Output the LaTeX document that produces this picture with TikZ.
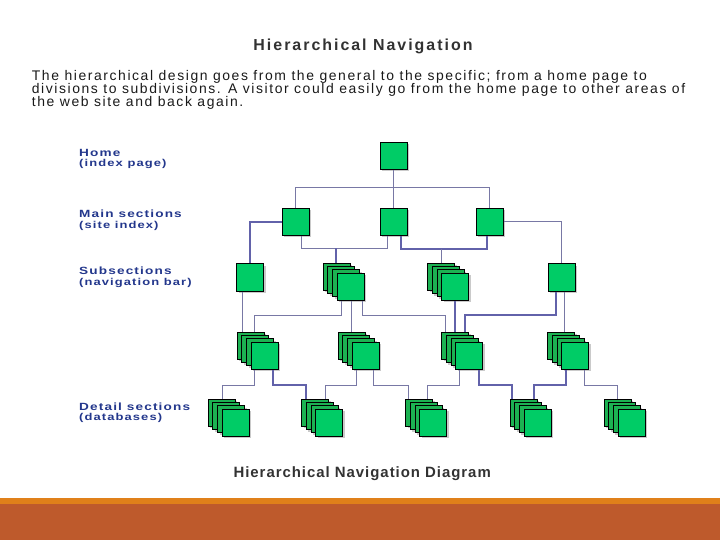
\documentclass[tikz,border=0pt]{standalone}
\usepackage{fontspec}
\setmainfont{Liberation Sans}
\usetikzlibrary{shadows,calc}
\definecolor{boxgreen}{RGB}{0,204,102}
\definecolor{backgreen}{RGB}{28,178,82}
\definecolor{lblblue}{RGB}{35,55,140}
\definecolor{lnthin}{RGB}{120,120,165}
\definecolor{lnthick}{RGB}{98,98,170}
\definecolor{barorange}{RGB}{224,128,26}
\definecolor{barrust}{RGB}{190,90,44}
\definecolor{txtgray}{RGB}{50,50,50}
\newfontfamily\lblfont[FakeStretch=1.3,LetterSpace=11]{Liberation Sans}
\newfontfamily\titlefont[LetterSpace=12.5]{Liberation Sans}
\newfontfamily\parafont[LetterSpace=11.3]{Liberation Sans}
\newfontfamily\capfont[LetterSpace=6.5]{Liberation Sans}
\tikzset{
 pagebox/.style={draw=black, line width=1bp, fill=boxgreen, minimum size=27bp, inner sep=0pt,
   drop shadow={shadow xshift=2bp, shadow yshift=-2bp, fill=black!35, opacity=0.6}},
 backbox/.style={pagebox, fill=backgreen},
 ln/.style={draw=lnthin, line width=1bp},
 lnb/.style={draw=lnthick, line width=1.8bp},
 lbl/.style={anchor=base west, inner sep=0pt, text=lblblue, font=\lblfont\bfseries\fontsize{10.5}{12}\selectfont},
 lbls/.style={lbl, font=\lblfont\bfseries\fontsize{10}{11}\selectfont},
 titletext/.style={anchor=base, inner sep=0pt, text=txtgray, font=\titlefont\bfseries\fontsize{16}{18}\selectfont},
 paratext/.style={anchor=base west, inner sep=0pt, text=black!90, font=\parafont\fontsize{14}{16}\selectfont},
 captext/.style={anchor=base, inner sep=0pt, text=txtgray, font=\capfont\bfseries\fontsize{15}{17}\selectfont},
}
\newcommand\pagestack[3]{%
 \foreach \i in {0,1,2} {\node[backbox] (#1-\i) at ({#2+13.5+\i*4.67},{#3+13.5+\i*3.33}) {};}
 \node[pagebox] (#1) at ({#2+13.5+14},{#3+13.5+10}) {};
}
\begin{document}
\begin{tikzpicture}[x=1bp,y=-1bp]
\useasboundingbox (0,0) rectangle (720,540);
% bottom bars
\fill[barorange] (0,497.5) rectangle (720,504);
\fill[barrust] (0,504) rectangle (720,540);
% texts
\node[titletext] (title) at (363,50.7) {Hierarchical Navigation};
\node[paratext] (p1) at (31.7,80.3) {The hierarchical design goes from the general to the specific; from a home page to};
\node[paratext] (p2) at (31.7,93.7) {divisions to subdivisions. A visitor could easily go from the home page to other areas of};
\node[paratext] (p3) at (31.7,107) {the web site and back again.};
\node[captext] (cap) at (362.2,477.7) {Hierarchical Navigation Diagram};
% level labels
\node[lbl] (l1a) at (79,156.5) {Home};
\node[lbls] (l1b) at (79,166.8) {(index page)};
\node[lbl] (l2a) at (79,217.5) {Main sections};
\node[lbls] (l2b) at (79,229) {(site index)};
\node[lbl] (l3a) at (79,274.3) {Subsections};
\node[lbls] (l3b) at (79,285.6) {(navigation bar)};
\node[lbl] (l5a) at (79,410) {Detail sections};
\node[lbls] (l5b) at (79,420) {(databases)};
% boxes
\node[pagebox] (home) at (393.5,156) {};
\node[pagebox] (m1) at (295.5,222) {};
\node[pagebox] (m2) at (393.5,222) {};
\node[pagebox] (m3) at (489.5,222) {};
\node[pagebox] (s1) at (250,277.5) {};
\pagestack{S2}{323.3}{263.3}
\pagestack{S3}{427.7}{263.3}
\node[pagebox] (s4) at (561.5,277.5) {};
\pagestack{A}{237.3}{332.3}
\pagestack{B}{338.3}{332.3}
\pagestack{C}{441.7}{332.3}
\pagestack{D}{547.7}{332.3}
\pagestack{E1}{208.3}{399.3}
\pagestack{E2}{301.7}{399.3}
\pagestack{E3}{405.7}{399.3}
\pagestack{E4}{510}{399.3}
\pagestack{E5}{604}{399.3}
% connectors level 1-2
\coordinate (bus1) at (393.5,187.3);
\draw[ln] (home.south) -- (m2.north);
\draw[ln] (m1.north) |- (bus1) -| (m3.north);
% level 2-3
\draw[lnb] (m1.west) -| (s1.north);
\coordinate (j2) at (335.7,248.3);
\draw[ln] (301.3,0 |- m1.south) |- (387.3,248.3) -- (387.3,0 |- m2.south);
\draw[lnb] (j2) -- (335.7,0 |- S2-0.north);
\coordinate (j3) at (441.7,249);
\draw[lnb] (400.7,0 |- m2.south) |- (487.3,249) -- (487.3,0 |- m3.south);
\draw[ln] (j3) -- (441.7,0 |- S3-0.north);
\draw[ln] (m3.east) -| (s4.north);
% level 3-4
\draw[ln] (242.7,0 |- s1.south) -- (242.7,0 |- A-0.north);
\draw[ln] (341.7,0 |- S2.south) |- (254.3,315) -- (254.3,0 |- A-0.north);
\draw[ln] (351.7,0 |- S2.south) -- (351.7,0 |- B-0.north);
\draw[ln] (362.3,0 |- S2.south) |- (445.7,315) -- (445.7,0 |- C-0.north);
\draw[lnb] (455,0 |- S3.south) -- (455,0 |- C-0.north);
\draw[lnb] (556.3,0 |- s4.south) |- (465,315.3) -- (465,0 |- C-0.north);
\draw[ln] (564.3,0 |- s4.south) -- (564.3,0 |- D-0.north);
% level 4-5
\draw[ln] (254.3,0 |- A.south) |- (222.3,385) -- (222.3,0 |- E1-0.north);
\draw[lnb] (273.3,0 |- A.south) |- (306,385) -- (306,0 |- E2-0.north);
\draw[ln] (356.7,0 |- B.south) |- (325,385) -- (325,0 |- E2-0.north);
\draw[ln] (373.3,0 |- B.south) |- (408.3,385) -- (408.3,0 |- E3-0.north);
\draw[ln] (459.3,0 |- C.south) |- (427.7,385) -- (427.7,0 |- E3-0.north);
\draw[lnb] (479.3,0 |- C.south) |- (512.3,385) -- (512.3,0 |- E4-0.north);
\draw[lnb] (566,0 |- D.south) |- (534,385) -- (534,0 |- E4-0.north);
\draw[ln] (584,0 |- D.south) |- (617.7,385) -- (617.7,0 |- E5-0.north);
\end{tikzpicture}
\end{document}
